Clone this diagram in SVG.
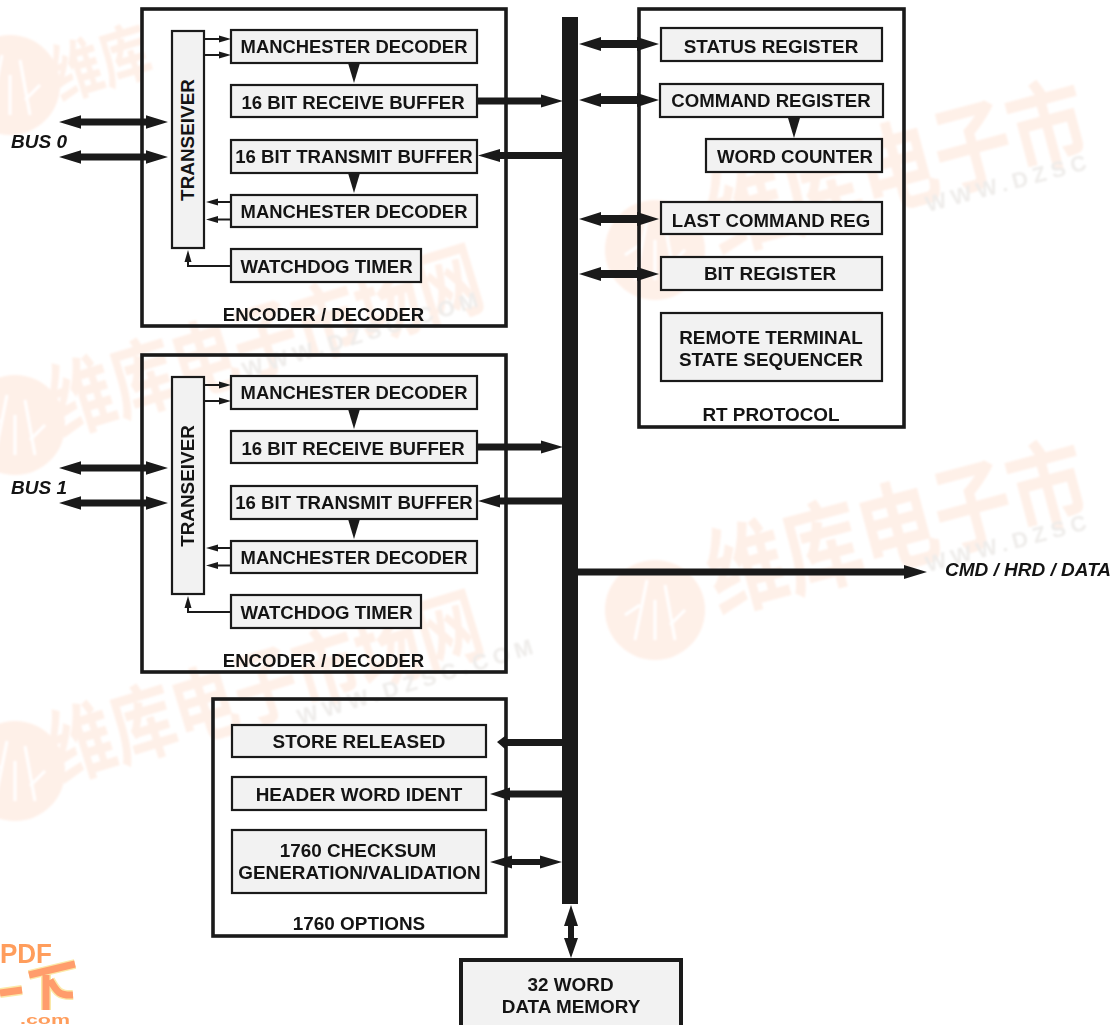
<svg xmlns="http://www.w3.org/2000/svg" width="1112" height="1025" viewBox="0 0 1112 1025">
<style>
text{font-family:"Liberation Sans",Arial,sans-serif;font-weight:700;fill:#141414;font-size:18.6px;text-anchor:middle}
.w{font-size:18.9px}
.i{font-style:italic;font-size:19px;text-anchor:start}
.f{fill:#f2f2f2;stroke:#1a1a1a;stroke-width:2.2}
.o{fill:none;stroke:#1a1a1a;stroke-width:3.6}
.t{stroke:#1a1a1a;stroke-width:2;fill:none}
.h{fill:#1a1a1a;stroke:none}
.wm{font-family:"Noto Sans CJK SC","Liberation Sans",sans-serif;text-anchor:start;fill:#fef0e8}
.wu{font-size:22px;fill:#eeecea;letter-spacing:5.5px;text-anchor:start}
.c{fill:#fef0e8}
.l{fill:none;stroke:#fff;stroke-width:3}
</style>
<defs>
<filter id="soft" x="-5%" y="-5%" width="110%" height="110%"><feGaussianBlur stdDeviation="1.2"/></filter>
<g id="seal"><circle class="c" r="50"/><path class="l" d="M-20 30L-8 -30M0 30V-10M20 30L10 -25M-30 5L-15 -5M30 0L15 15"/></g>
<path id="dbus" class="h" d="M0 0L22 -6.700V-3.500H87V-6.700L109 0L87 6.700V3.500H22V6.700Z"/>
<path id="drt" class="h" d="M0 0L22 -7V-4H58V-7L80 0L58 7V4H22V7Z"/>
<path id="tri" class="h" d="M-6 0H6L0 20Z"/>
<g id="enc">
<rect class="o" x="142" y="9" width="364" height="317"/>
<rect class="f" x="172" y="31" width="32" height="217"/>
<text class="w" transform="translate(194 140) rotate(-90)">TRANSEIVER</text>
<rect class="f" x="231" y="30" width="246" height="33"/><text x="354" y="53" style="font-size:18.4px">MANCHESTER DECODER</text>
<rect class="f" x="231" y="85" width="246" height="32"/><text x="353" y="108.500">16 BIT RECEIVE BUFFER</text>
<rect class="f" x="231" y="140" width="246" height="33"/><text x="354" y="163">16 BIT TRANSMIT BUFFER</text>
<rect class="f" x="231" y="195" width="246" height="32"/><text x="354" y="218" style="font-size:18.4px">MANCHESTER DECODER</text>
<rect class="f" x="231" y="249" width="190" height="33"/><text x="326.500" y="273">WATCHDOG TIMER</text>
<text x="323.500" y="321">ENCODER / DECODER</text>
<use href="#tri" x="354" y="63"/><use href="#tri" x="354" y="173"/>
<path class="t" d="M204 39H220M204 55H220M231 202H216M231 219.500H216M231 266H188V258"/>
<path class="h" d="M231 39L219 35.500V42.500ZM231 55L219 51.500V58.500ZM206 202L218 198.500V205.500ZM206 219.500L218 216V223ZM188 250L184.500 262H191.500Z"/>
<use href="#dbus" x="59" y="122"/><use href="#dbus" x="59" y="157"/>
</g>
</defs>

<g id="watermarks" filter="url(#soft)">
<use href="#seal" x="10" y="85"/>
<use href="#seal" x="15" y="425"/>
<use href="#seal" x="15" y="771"/>
<use href="#seal" x="655" y="250"/>
<use href="#seal" x="655" y="610"/>
<text class="wm" transform="translate(60 100) rotate(-17) scale(1 1.3)" style="font-size:50px">维库</text>
<text class="wm" transform="translate(60 435) rotate(-17) scale(1 1.3)" style="font-size:64px">维库电子市场网</text>
<text class="wm" transform="translate(60 781) rotate(-17) scale(1 1.3)" style="font-size:64px">维库电子市场网</text>
<text class="wm" transform="translate(718 252) rotate(-15) scale(1 1.25)" style="font-size:78px">维库电子市</text>
<text class="wm" transform="translate(718 612) rotate(-15) scale(1 1.25)" style="font-size:78px">维库电子市</text>
<text class="wu" transform="translate(245 378) rotate(-17)">WWW.DZSC.COM</text>
<text class="wu" transform="translate(300 725) rotate(-17)">WWW.DZSC.COM</text>
<text class="wu" transform="translate(928 212) rotate(-15)">WWW.DZSC</text>
<text class="wu" transform="translate(928 572) rotate(-15)">WWW.DZSC</text>
</g>

<g id="encoder0"><use href="#enc"/></g>
<g id="encoder1"><use href="#enc" y="346"/></g>

<g id="rt-protocol">
<rect class="o" x="639" y="9" width="265" height="418"/>
<rect class="f" x="661" y="28" width="221" height="33"/><text class="w" x="771" y="53">STATUS REGISTER</text>
<rect class="f" x="660" y="84" width="223" height="33"/><text x="771" y="107">COMMAND REGISTER</text>
<rect class="f" x="706" y="139" width="176" height="33"/><text x="795" y="163">WORD COUNTER</text>
<rect class="f" x="661" y="202" width="221" height="32"/><text x="771" y="227">LAST COMMAND REG</text>
<rect class="f" x="661" y="257" width="221" height="33"/><text class="w" x="770" y="280">BIT REGISTER</text>
<rect class="f" x="661" y="313" width="221" height="68"/><text class="w" x="771" y="344">REMOTE TERMINAL</text><text class="w" x="771" y="366">STATE SEQUENCER</text>
<text class="w" x="771" y="421">RT PROTOCOL</text>
<use href="#tri" x="794" y="118"/>
</g>

<g id="options">
<rect class="o" x="213" y="699" width="293" height="237"/>
<rect class="f" x="232" y="725" width="254" height="32"/><text class="w" x="359" y="748">STORE RELEASED</text>
<rect class="f" x="232" y="777" width="254" height="33"/><text class="w" x="359" y="801">HEADER WORD IDENT</text>
<rect class="f" x="232" y="830" width="254" height="63"/><text class="w" x="358" y="857">1760 CHECKSUM</text><text class="w" x="359.500" y="879">GENERATION/VALIDATION</text>
<text class="w" x="359" y="930">1760 OPTIONS</text>
</g>

<g id="memory">
<rect x="461" y="960" width="220" height="70" fill="#f2f2f2" stroke="#1a1a1a" stroke-width="4"/>
<text class="w" x="570.500" y="991">32 WORD</text><text class="w" x="571" y="1013">DATA MEMORY</text>
</g>

<g id="connectors">
<rect x="562" y="17" width="16" height="887" fill="#1a1a1a"/>
<use href="#drt" x="579" y="44"/>
<use href="#drt" x="579" y="100"/>
<use href="#drt" x="579" y="219"/>
<use href="#drt" x="579" y="274"/>
<path class="h" d="M478 97.500H541V94.500L563 101L541 107.500V104.500H478ZM478 443.500H541V440.500L563 447L541 453.500V450.500H478Z"/>
<path class="h" d="M478 155.500L500 149V152H562V159H500V162ZM478 501L500 494.500V497.500H562V504.500H500V507.500Z"/>
<path class="h" d="M578 568.500H904V565L927 572L904 579V575.500H578Z"/>
<path class="h" d="M497 742L505 736V739H562V746H505V749ZM490 794L510 787.500V790.500H562V797.500H510V800.500Z"/>
<path class="h" d="M490 862L512 855.500V859H540V855.500L562 862L540 868.500V865H512V868.500Z"/>
<path class="h" d="M571 905L578 926H574V938H578L571 958L564 938H568V926H564Z"/>
</g>

<text class="i" x="11" y="148">BUS 0</text>
<text class="i" x="11" y="494">BUS 1</text>
<text class="i" x="945" y="576">CMD / HRD / DATA</text>

<g id="logo">
<text x="0" y="963" textLength="52" lengthAdjust="spacingAndGlyphs" style="font-size:28px;fill:#ff9d5c;text-anchor:start">PDF</text>
<path d="M0 993L22 990M29 975L75 964M46 975L46 1010M50 980C56 990 58 996 73 995" stroke="#fbe9a8" stroke-width="10" fill="none"/>
<path d="M0 993L22 990M29 975L75 964M46 975L46 1010M50 980C56 990 58 996 73 995" stroke="#ff9d6c" stroke-width="7" fill="none"/>
<text x="20" y="1024" textLength="50" lengthAdjust="spacingAndGlyphs" style="font-size:13px;fill:#ff9d5c;text-anchor:start">.com</text>
</g>
</svg>
